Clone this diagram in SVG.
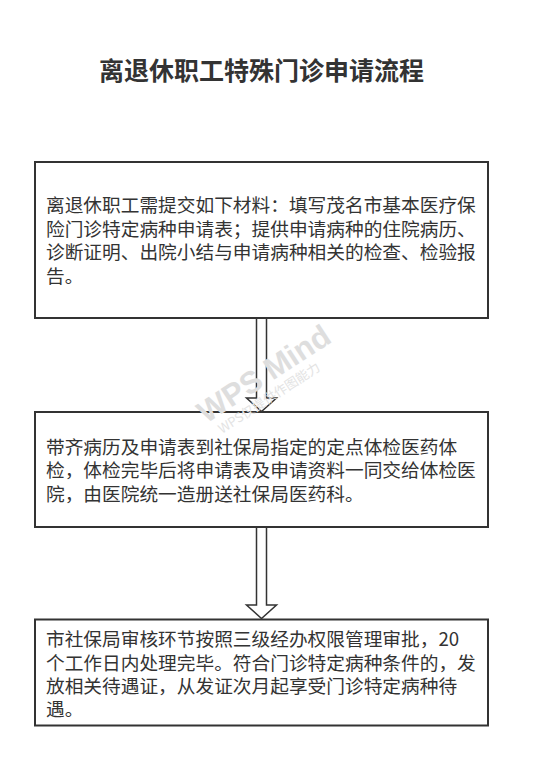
<svg xmlns="http://www.w3.org/2000/svg" width="547" height="779" viewBox="0 0 547 779">
<style>
.bg{fill:#ffffff}
.box{fill:#ffffff;stroke:#333333;stroke-width:2}
.t{font-family:"Noto Sans CJK SC","Liberation Sans",sans-serif;font-size:18.7px;fill:#333333}
.title{font-family:"Noto Sans CJK SC","Liberation Sans",sans-serif;font-size:25px;font-weight:bold;fill:#333333}
.arrow{fill:#ffffff;stroke:#333333;stroke-width:1.5;stroke-linejoin:miter}
.wm{font-family:"Liberation Sans","Noto Sans CJK SC",sans-serif;font-weight:bold;fill:#dedede}
.wm2{font-family:"Noto Sans CJK SC","Liberation Sans",sans-serif;fill:#e3e3e3}
</style>
<rect class="bg" x="0" y="0" width="547" height="779"/>
<text class="title" x="261.5" y="80" text-anchor="middle">离退休职工特殊门诊申请流程</text>

<g id="connectors">
  <path class="arrow" d="M256.5,318 L266.5,318 L266.5,398 L276.5,398 L261.5,411.5 L246.5,398 L256.5,398 Z"/>
  <path class="arrow" d="M256.5,527 L266.5,527 L266.5,605 L276.5,605 L261.5,618.5 L246.5,605 L256.5,605 Z"/>
</g>

<g id="node1">
  <rect class="box" x="35" y="162" width="453" height="156"/>
  <text class="t" x="46" y="212">离退休职工需提交如下材料：填写茂名市基本医疗保</text>
  <text class="t" x="46" y="235.5">险门诊特定病种申请表；提供申请病种的住院病历、</text>
  <text class="t" x="46" y="259">诊断证明、出院小结与申请病种相关的检查、检验报</text>
  <text class="t" x="46" y="282.5">告。</text>
</g>

<g id="node2">
  <rect class="box" x="35" y="412" width="453" height="115"/>
  <text class="t" x="46" y="453.5">带齐病历及申请表到社保局指定的定点体检医药体</text>
  <text class="t" x="46" y="477">检，体检完毕后将申请表及申请资料一同交给体检医</text>
  <text class="t" x="46" y="500.5">院，由医院统一造册送社保局医药科。</text>
</g>

<g id="node3">
  <rect class="box" x="35" y="619.5" width="453" height="106"/>
  <text class="t" x="46" y="646">市社保局审核环节按照三级经办权限管理审批，20</text>
  <text class="t" x="46" y="669.5">个工作日内处理完毕。符合门诊特定病种条件的，发</text>
  <text class="t" x="46" y="692.5">放相关待遇证，从发证次月起享受门诊特定病种待</text>
  <text class="t" x="46" y="716">遇。</text>
</g>

<g id="watermark">
  <text class="wm" x="0" y="0" font-size="31" transform="translate(206,424) rotate(-33)">WPS Mind</text>
  <text class="wm2" x="0" y="0" font-size="13" transform="translate(222,434) rotate(-33)">WPS仅提供作图能力</text>
</g>
</svg>
